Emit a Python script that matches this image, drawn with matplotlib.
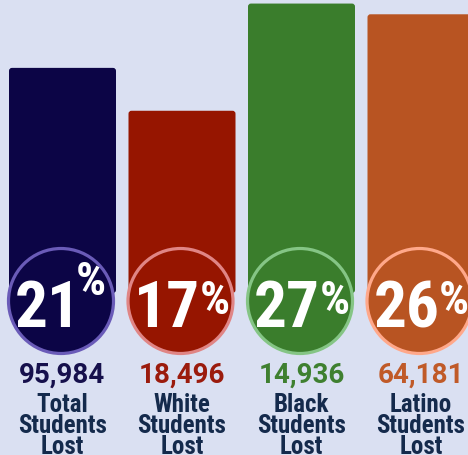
import matplotlib
matplotlib.use("Agg")
import matplotlib.pyplot as plt
from matplotlib import font_manager as fm
from matplotlib.patches import FancyBboxPatch, Ellipse

# ---- data ----
categories = ["Total", "White", "Black", "Latino"]
percents = [21, 17, 27, 26]
students_lost = [95984, 18496, 14936, 64181]

bar_colors = ["#0c0546", "#961500", "#3a7d2c", "#b85422"]
ring_colors = ["#6a5bb8", "#e08585", "#85c585", "#ffa88a"]
num_colors = ["#16104c", "#9b1b0d", "#3f8030", "#c05a28"]
label_color = "#142a4c"
bg = "#dae0f2"

avail = {}
for f in fm.fontManager.ttflist:
    avail.setdefault(f.name, set()).add(f.weight)


def pick(cands, default):
    for c in cands:
        if c in avail and any((isinstance(w, int) and w >= 700) or w == "bold" for w in avail[c]):
            return c
    return default


narrow = pick(["Roboto Condensed", "Archivo Narrow", "Fira Sans Condensed",
               "PT Sans Narrow", "Barlow Condensed"], "DejaVu Sans")
numfont = "Roboto" if "Roboto" in avail else narrow

W, H = 468, 455
fig = plt.figure(figsize=(W / 100, H / 100), dpi=100)
fig.patch.set_facecolor(bg)
ax = fig.add_axes([0, 0, 1, 1])
ax.set_facecolor(bg)

base_px = 293.0
ppp = 10.72
xstep = 119.5
x0 = 62.5


def ypx(p):
    return (base_px - p) / ppp


def xoff(px):
    return px / xstep


ax.set_xlim(-x0 / xstep, (W - x0) / xstep)
ax.set_ylim(ypx(H), ypx(0))
ax.axis("off")

xs = list(range(len(categories)))
bars = ax.bar(xs, percents, width=107 / xstep, color=bar_colors)
for b, c in zip(bars, bar_colors):
    b.set_visible(False)
    fb = FancyBboxPatch((b.get_x(), b.get_y()), b.get_width(), b.get_height(),
                        boxstyle="round,pad=0,rounding_size=0.025",
                        mutation_aspect=xstep / ppp, facecolor=c,
                        edgecolor="none", zorder=2)
    ax.add_patch(fb)

r = 52.5
for i, (c, rc) in enumerate(zip(bar_colors, ring_colors)):
    e = Ellipse((i - xoff(1.5), ypx(301)), 2 * r / xstep, 2 * r / ppp,
                facecolor=c, edgecolor=rc, linewidth=2.3, zorder=3)
    ax.add_patch(e)

for i, p in enumerate(percents):
    ax.text(i + xoff(18.5), ypx(327), f"{p}", ha="right", va="baseline",
            fontsize=47, fontweight="bold", family=narrow, color="white", zorder=4)
    pb = 295 if i == 0 else 314
    px_off = 13 if i == 0 else 18
    ax.text(i + xoff(px_off), ypx(pb), "%", ha="left", va="baseline",
            fontsize=34, fontweight="bold", family=narrow, color="white", zorder=4)

for i, (n, c) in enumerate(zip(students_lost, num_colors)):
    ax.text(i, ypx(383), f"{n:,}", ha="center", va="baseline", fontsize=20,
            fontweight="bold", family=numfont, color=c, zorder=4)
    for line, yb in zip([categories[i], "Students", "Lost"], [412, 433, 454]):
        ax.text(i, ypx(yb), line, ha="center", va="baseline", fontsize=18,
                fontweight="bold", family=narrow, color=label_color, zorder=4)

fig.savefig("out.png", dpi=100, facecolor=bg)
